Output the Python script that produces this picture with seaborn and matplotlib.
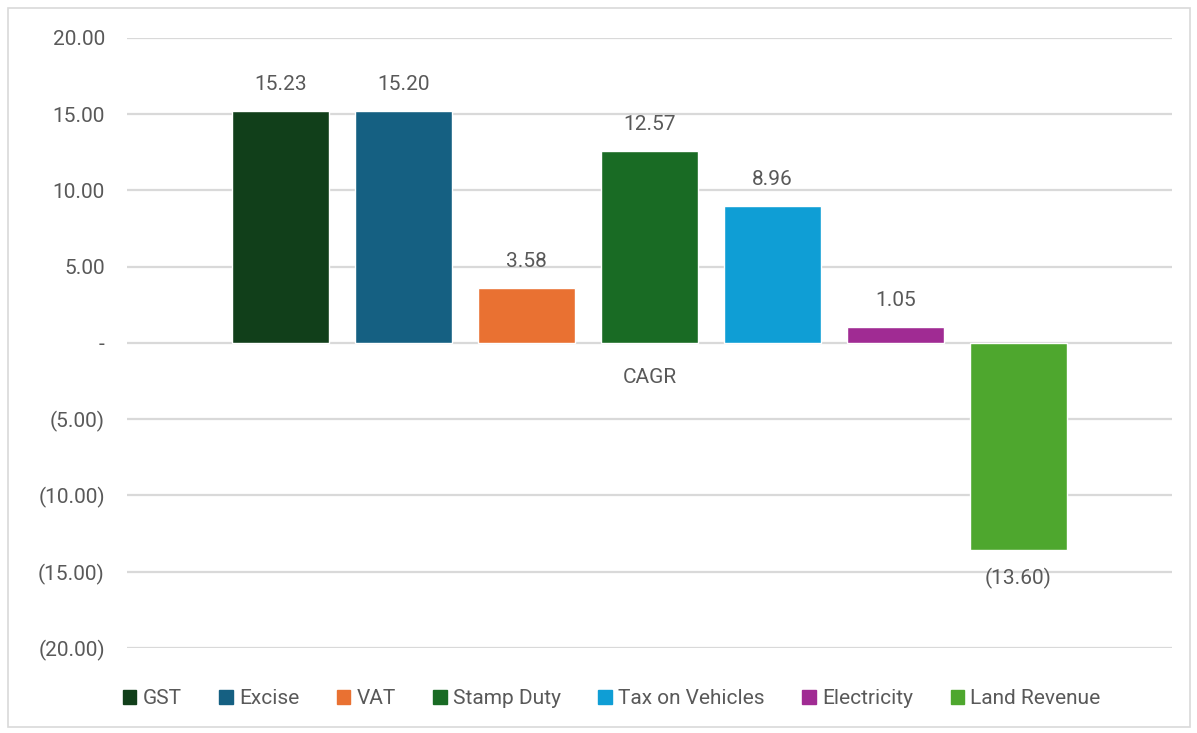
"""
CAGR by revenue head - Excel-style clustered column chart
"""

import numpy as np
import pandas as pd
import matplotlib
matplotlib.use('Agg')
import matplotlib.pyplot as plt
from matplotlib.patches import Rectangle
from matplotlib.ticker import FuncFormatter
import seaborn as sns

# Data
categories = ['CAGR']
series = ['GST', 'Excise', 'VAT', 'Stamp Duty', 'Tax on Vehicles',
          'Electricity', 'Land Revenue']
values = [15.23, 15.20, 3.58, 12.57, 8.96, 1.05, -13.60]

# Office-style palette
COLORS = ['#113F1A', '#156082', '#E97132', '#196B24', '#0F9ED5',
          '#A02B93', '#4EA72E']
TEXT = '#595959'
GRID = '#D9D9D9'

sns.set_theme(style='white')
plt.rcParams['font.family'] = ['Roboto', 'DejaVu Sans']
plt.rcParams['font.size'] = 15

df = pd.DataFrame({'Metric': categories * len(series),
                   'Tax': series,
                   'Value': values})


def accounting(v, pos=None):
    if abs(v) < 1e-9:
        return '-'
    if v < 0:
        return f'({abs(v):.2f})'
    return f'{v:.2f}'


fig = plt.figure(figsize=(11.97, 7.33), dpi=100)
ax = fig.add_axes([0.1061, 0.1160, 0.8730, 0.8322])

sns.barplot(data=df, x='Metric', y='Value', hue='Tax', hue_order=series,
            palette=COLORS, width=0.824, gap=0.21, saturation=1,
            legend=False, ax=ax)

ax.set_xlim(-0.5, 0.5)
ax.set_ylim(-20, 20)
ax.set_yticks(np.arange(-20, 21, 5))
ax.yaxis.set_major_formatter(FuncFormatter(accounting))
ax.grid(True, axis='y', color=GRID, linewidth=1.6)
ax.set_axisbelow(True)
for s in ax.spines.values():
    s.set_visible(False)
ax.spines['bottom'].set_position(('data', 0))
ax.tick_params(axis='y', length=0, pad=16, labelsize=15, labelcolor=TEXT)
ax.tick_params(axis='x', length=0, pad=18, labelsize=15, labelcolor=TEXT)
ax.set_xlabel('')
ax.set_ylabel('')

# data labels
for bar, v in zip(ax.patches, values):
    x = bar.get_x() + bar.get_width() / 2
    off = 19 if v >= 0 else -20
    ax.annotate(accounting(v), xy=(x, v), xytext=(0, off),
                textcoords='offset points', ha='center', va='center',
                fontsize=15, color=TEXT)

handles = [Rectangle((0, 0), 1, 1, color=c) for c in COLORS]
fig.legend(handles, series, loc='center', bbox_to_anchor=(0.511, 0.047),
           ncol=7, frameon=False, fontsize=15, labelcolor=TEXT,
           handlelength=0.65, handleheight=0.65, handletextpad=0.3,
           columnspacing=1.8)

# chart border
fig.patches.append(Rectangle((8 / 1197, 1 - 727 / 733), 1182 / 1197, 719 / 733,
                             transform=fig.transFigure, fill=False,
                             edgecolor=GRID, linewidth=1.2))

fig.savefig('out.png', dpi=100)
